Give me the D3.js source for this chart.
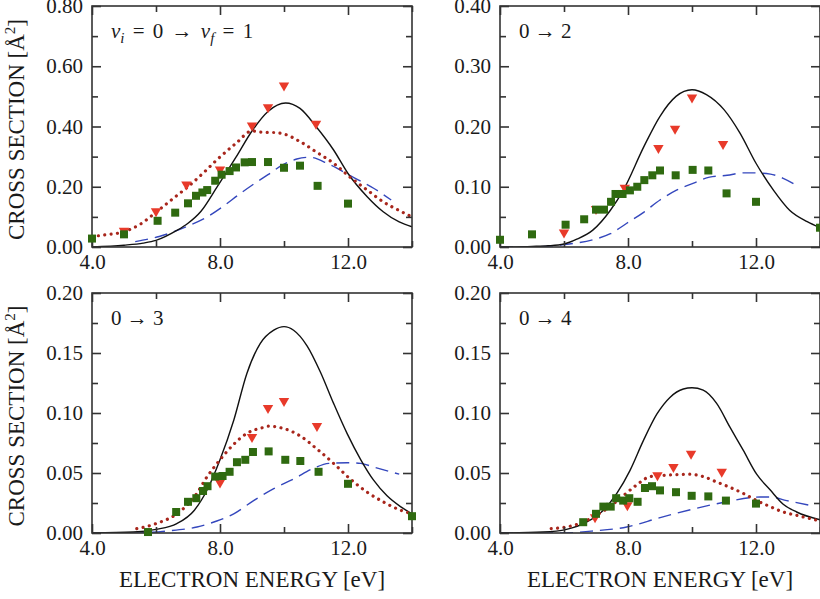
<!DOCTYPE html>
<html><head><meta charset="utf-8">
<script src="https://cdn.jsdelivr.net/npm/d3@7"></script>
<style>
body{margin:0;background:#fff}
svg{display:block}
text{font-family:"Liberation Serif","Times New Roman",serif;fill:#1a1a1a}
</style>
</head><body>
<svg id="c" width="820" height="599"></svg>
<script>
// ---------------- data (E in eV, cross section in Å^2) ----------------
const xTickValues = [4, 6, 8, 10, 12, 14];
const xTickLabels = {4: "4.0", 8: "8.0", 12: "12.0"};

// panel 1 : v_i = 0 -> v_f = 1
const p1Solid = [[4.0,0.0],[5.0,0.006],[5.6,0.013],[6.0,0.022],[6.65,0.055],[7.0,0.079],[7.4,0.118],[7.9,0.198],[8.5,0.298],[9.0,0.385],[9.5,0.45],[10.05,0.478],[10.5,0.46],[11.0,0.40],[11.55,0.322],[12.0,0.244],[12.6,0.167],[13.1,0.117],[13.6,0.083],[14.0,0.067]];
const p1Dotted = [[4.0,0.035],[4.4,0.04],[5.0,0.051],[5.5,0.075],[6.0,0.115],[6.5,0.158],[7.0,0.20],[7.5,0.248],[7.9,0.289],[8.5,0.344],[9.0,0.385],[9.3,0.381],[9.7,0.38],[10.0,0.375],[10.5,0.35],[11.0,0.316],[11.55,0.278],[12.05,0.233],[12.6,0.189],[13.1,0.15],[13.6,0.121],[14.0,0.10]];
const p1Dashed = [[5.35,0.018],[6.1,0.035],[7.0,0.07],[7.6,0.1],[8.1,0.135],[8.6,0.175],[9.0,0.205],[9.5,0.24],[10.0,0.275],[10.4,0.292],[10.8,0.298],[11.4,0.275],[12.1,0.235],[12.8,0.195],[13.35,0.156]];
const p1Tri = [[5.0,0.05],[6.0,0.114],[6.95,0.203],[8.0,0.253],[9.0,0.399],[9.5,0.46],[10.0,0.532],[11.0,0.405]];
const p1Sq = [[4.0,0.028],[5.0,0.042],[6.05,0.087],[6.6,0.114],[7.0,0.145],[7.25,0.170],[7.45,0.181],[7.6,0.189],[7.85,0.220],[8.05,0.240],[8.3,0.252],[8.5,0.264],[8.77,0.281],[9.0,0.282],[9.5,0.282],[10.0,0.263],[10.5,0.270],[11.05,0.203],[12.0,0.144]];
const p1YTicks = [0, 0.2, 0.4, 0.6, 0.8];
const p1YMinor = [0.1, 0.3, 0.5, 0.7];

// panel 2 : 0 -> 2
const p2Solid = [[4.0,0.0],[5.0,0.001],[5.5,0.002],[6.0,0.005],[6.4,0.013],[6.9,0.028],[7.45,0.061],[7.85,0.094],[8.5,0.167],[9.0,0.217],[9.5,0.25],[10.0,0.261],[10.45,0.253],[11.0,0.228],[11.5,0.189],[12.0,0.139],[12.55,0.094],[13.05,0.061],[13.6,0.042],[14.0,0.032]];
const p2Dotted = [];
const p2Dashed = [[4.0,0.0],[5.0,0.0],[6.0,0.004],[6.9,0.012],[7.45,0.022],[7.95,0.039],[8.5,0.058],[9.0,0.078],[9.5,0.094],[10.05,0.106],[10.55,0.116],[11.1,0.119],[11.6,0.123],[11.9,0.123],[12.45,0.121],[12.85,0.114],[13.3,0.101]];
const p2Tri = [[6.0,0.022],[7.0,0.061],[7.9,0.096],[8.95,0.162],[9.47,0.194],[10.0,0.246],[10.97,0.169]];
const p2Sq = [[4.0,0.012],[5.0,0.021],[6.05,0.037],[6.63,0.046],[7.0,0.062],[7.25,0.062],[7.47,0.075],[7.61,0.088],[7.83,0.088],[8.06,0.094],[8.29,0.100],[8.51,0.111],[8.76,0.119],[9.0,0.127],[9.49,0.119],[10.02,0.128],[10.51,0.127],[11.08,0.089],[12.0,0.075],[14.0,0.032]];
const p2YTicks = [0, 0.1, 0.2, 0.3, 0.4];
const p2YMinor = [0.05, 0.15, 0.25, 0.35];

// panel 3 : 0 -> 3
const p3Solid = [[4.0,0.0],[5.3,0.0008],[6.0,0.003],[6.65,0.0078],[7.2,0.019],[7.6,0.036],[8.0,0.061],[8.43,0.094],[8.84,0.133],[9.26,0.158],[9.68,0.169],[10.0,0.172],[10.3,0.169],[10.72,0.156],[11.14,0.134],[11.55,0.108],[11.97,0.083],[12.4,0.061],[12.8,0.044],[13.22,0.031],[13.64,0.022],[14.0,0.016]];
const p3Dotted = [[5.4,0.0036],[6.0,0.0078],[6.65,0.016],[7.2,0.030],[7.6,0.047],[8.0,0.061],[8.43,0.074],[8.84,0.083],[9.36,0.088],[9.52,0.089],[10.0,0.087],[10.5,0.081],[11.03,0.070],[11.55,0.058],[12.07,0.045],[12.6,0.034],[13.1,0.026],[13.64,0.019],[14.0,0.016]];
const p3Dashed = [[4.0,0.0],[5.3,0.0],[6.35,0.0017],[7.28,0.005],[7.9,0.010],[8.43,0.016],[9.05,0.027],[9.68,0.037],[10.3,0.045],[10.93,0.054],[11.4,0.058],[11.97,0.0586],[12.4,0.058],[12.8,0.055],[13.2,0.052],[13.6,0.049]];
const p3Tri = [[8.0,0.041],[9.0,0.079],[9.5,0.103],[10.0,0.109],[11.03,0.088]];
const p3Sq = [[5.75,0.0008],[6.63,0.0175],[7.0,0.026],[7.26,0.029],[7.47,0.035],[7.61,0.039],[7.85,0.047],[8.08,0.0475],[8.3,0.051],[8.53,0.059],[8.79,0.061],[9.03,0.0675],[9.52,0.068],[10.04,0.061],[10.51,0.060],[11.08,0.051],[12.0,0.041],[14.0,0.014]];
const p3YTicks = [0, 0.05, 0.1, 0.15, 0.2];
const p3YMinor = [0.025, 0.075, 0.125, 0.175];

// panel 4 : 0 -> 4
const p4Solid = [[4.0,0.0],[5.35,0.0008],[6.08,0.003],[6.7,0.009],[7.23,0.019],[7.65,0.033],[8.06,0.052],[8.48,0.077],[8.9,0.099],[9.31,0.113],[9.73,0.120],[10.0,0.121],[10.35,0.119],[10.77,0.108],[11.19,0.088],[11.6,0.069],[12.02,0.049],[12.44,0.036],[12.85,0.024],[13.27,0.0175],[14.0,0.011]];
const p4Dotted = [[5.6,0.0036],[6.08,0.005],[6.6,0.009],[7.02,0.015],[7.44,0.022],[7.85,0.031],[8.27,0.040],[8.69,0.047],[9.1,0.048],[9.52,0.0486],[9.94,0.049],[10.35,0.047],[10.77,0.0425],[11.19,0.038],[11.6,0.033],[12.02,0.027],[12.44,0.022],[12.85,0.0175],[13.27,0.0147],[14.0,0.010]];
const p4Dashed = [[4.0,0.0],[5.9,0.0],[6.92,0.0017],[7.96,0.005],[9.0,0.0128],[10.04,0.020],[11.08,0.026],[12.13,0.030],[12.44,0.030],[12.96,0.027],[13.7,0.023]];
const p4Tri = [[6.97,0.012],[7.98,0.022],[8.92,0.047],[9.42,0.054],[9.97,0.065],[10.93,0.050]];
const p4Sq = [[6.6,0.009],[7.0,0.016],[7.23,0.022],[7.46,0.022],[7.63,0.029],[7.85,0.027],[8.04,0.029],[8.3,0.026],[8.53,0.0375],[8.75,0.039],[9.0,0.0355],[9.5,0.034],[9.99,0.031],[10.51,0.0305],[11.06,0.027],[12.0,0.0245]];
const p4YTicks = [0, 0.05, 0.1, 0.15, 0.2];
const p4YMinor = [0.025, 0.075, 0.125, 0.175];

const panelTitles = ["0 → 1", "0 → 2", "0 → 3", "0 → 4"];
const xAxisTitle = "ELECTRON ENERGY [eV]";
const yAxisTitle = "CROSS SECTION [Å";

// ---------------- layout ----------------
const svg = d3.select("#c");
const boxes = [
  {x0: 92, x1: 412, y0: 6, y1: 247},
  {x0: 500, x1: 820, y0: 6, y1: 247},
  {x0: 92, x1: 412, y0: 293, y1: 533},
  {x0: 500, x1: 820, y0: 293, y1: 533}
];
const panels = [
  {solid: p1Solid, dotted: p1Dotted, dashed: p1Dashed, tri: p1Tri, sq: p1Sq, yt: p1YTicks, ym: p1YMinor, fmt: ".2f"},
  {solid: p2Solid, dotted: p2Dotted, dashed: p2Dashed, tri: p2Tri, sq: p2Sq, yt: p2YTicks, ym: p2YMinor, fmt: ".2f"},
  {solid: p3Solid, dotted: p3Dotted, dashed: p3Dashed, tri: p3Tri, sq: p3Sq, yt: p3YTicks, ym: p3YMinor, fmt: ".2f"},
  {solid: p4Solid, dotted: p4Dotted, dashed: p4Dashed, tri: p4Tri, sq: p4Sq, yt: p4YTicks, ym: p4YMinor, fmt: ".2f"}
];

const frameColor = "#333";
const majorLen = 9, minorLen = 6;

panels.forEach((p, i) => {
  const b = boxes[i];
  const x = d3.scaleLinear().domain([4, 14]).range([b.x0, b.x1]);
  const y = d3.scaleLinear().domain([0, p.yt[p.yt.length - 1]]).range([b.y1, b.y0]);
  const g = svg.append("g");

  const clipId = "clip" + i;
  svg.append("clipPath").attr("id", clipId).append("rect")
    .attr("x", b.x0).attr("y", b.y0).attr("width", b.x1 - b.x0).attr("height", b.y1 - b.y0);

  const line = d3.line().x(d => x(d[0])).y(d => y(d[1])).curve(d3.curveMonotoneX);
  const lg = g.append("g").attr("clip-path", `url(#${clipId})`);
  if (p.dashed.length) lg.append("path").attr("d", line(p.dashed)).attr("fill", "none")
    .attr("stroke", "#3447bd").attr("stroke-width", 1.4).attr("stroke-dasharray", "13,7");
  if (p.solid.length) lg.append("path").attr("d", line(p.solid)).attr("fill", "none")
    .attr("stroke", "#111").attr("stroke-width", 1.4);
  if (p.dotted.length) lg.append("path").attr("d", line(p.dotted)).attr("fill", "none")
    .attr("stroke", "#a8261c").attr("stroke-width", 3.2).attr("stroke-linecap", "round")
    .attr("stroke-dasharray", "0.01,6.4");

  // frame
  g.append("rect").attr("x", b.x0).attr("y", b.y0).attr("width", b.x1 - b.x0).attr("height", b.y1 - b.y0)
    .attr("fill", "none").attr("stroke", frameColor).attr("stroke-width", 1.6);

  // axes with inward ticks
  const fmt = d3.format(p.fmt);
  const yLeft = d3.axisLeft(y).tickValues(p.yt).tickSize(-majorLen).tickPadding(9).tickFormat(fmt);
  const ya = g.append("g").attr("transform", `translate(${b.x0},0)`).call(yLeft);
  const yLeftMin = d3.axisLeft(y).tickValues(p.ym).tickSize(-minorLen).tickFormat("");
  const yam = g.append("g").attr("transform", `translate(${b.x0},0)`).call(yLeftMin);
  const yRight = d3.axisRight(y).tickValues(p.yt).tickSize(-majorLen).tickFormat("");
  const yr = g.append("g").attr("transform", `translate(${b.x1},0)`).call(yRight);
  const yRightMin = d3.axisRight(y).tickValues(p.ym).tickSize(-minorLen).tickFormat("");
  const yrm = g.append("g").attr("transform", `translate(${b.x1},0)`).call(yRightMin);

  const xMaj = xTickValues.filter(v => xTickLabels[v]);
  const xMin = xTickValues.filter(v => !xTickLabels[v]);
  const xBot = d3.axisBottom(x).tickValues(xMaj).tickSize(-majorLen).tickPadding(7).tickFormat(v => xTickLabels[v]);
  const xb = g.append("g").attr("transform", `translate(0,${b.y1})`).call(xBot);
  const xBotMin = d3.axisBottom(x).tickValues(xMin).tickSize(-minorLen).tickFormat("");
  const xbm = g.append("g").attr("transform", `translate(0,${b.y1})`).call(xBotMin);
  const xTop = d3.axisTop(x).tickValues(xMaj).tickSize(-majorLen).tickFormat("");
  const xt = g.append("g").attr("transform", `translate(0,${b.y0})`).call(xTop);
  const xTopMin = d3.axisTop(x).tickValues(xMin).tickSize(-minorLen).tickFormat("");
  const xtm = g.append("g").attr("transform", `translate(0,${b.y0})`).call(xTopMin);

  [ya, yam, yr, yrm, xb, xbm, xt, xtm].forEach(a => {
    a.select(".domain").remove();
    a.selectAll(".tick line").attr("stroke", frameColor).attr("stroke-width", 1.6);
    a.selectAll(".tick text").attr("font-size", 21).attr("font-family", '"Liberation Serif", serif').attr("fill", "#1a1a1a");
  });

  // markers
  const triPath = "M-5.2,-4.3L5.2,-4.3L0,4.7Z";
  g.append("g").selectAll("path").data(p.tri).join("path")
    .attr("d", triPath).attr("transform", d => `translate(${x(d[0])},${y(d[1])})`)
    .attr("fill", "#e83a2a");
  g.append("g").selectAll("rect").data(p.sq).join("rect")
    .attr("x", d => x(d[0]) - 4).attr("y", d => y(d[1]) - 4).attr("width", 8).attr("height", 8)
    .attr("fill", "#2f6a10");

  // panel title
  const t = g.append("text").attr("x", b.x0 + 19).attr("y", b.y0 + 32).attr("font-size", 21)
    .attr("xml:space", "preserve").style("white-space", "pre");
  if (i === 0) {
    t.append("tspan").attr("font-style", "italic").text("v");
    t.append("tspan").attr("font-style", "italic").attr("font-size", 15).attr("dy", 5).text("i");
    t.append("tspan").attr("dy", -5).attr("dx", 3).text(" =");
    t.append("tspan").attr("dx", 3).text(" 0");
    t.append("tspan").attr("dx", 3).text(" →");
    t.append("tspan").attr("dx", 3).text(" ");
    t.append("tspan").attr("font-style", "italic").text("v");
    t.append("tspan").attr("font-style", "italic").attr("font-size", 15).attr("dy", 5).text("f");
    t.append("tspan").attr("dy", -5).attr("dx", 3).text(" =");
    t.append("tspan").attr("dx", 3).text(" 1");
  } else {
    t.text(panelTitles[i]);
  }

  // axis titles
  if (i >= 2) {
    g.append("text").attr("x", (b.x0 + b.x1) / 2).attr("y", 587).attr("text-anchor", "middle")
      .attr("font-size", 23).text(xAxisTitle);
  }
  if (i % 2 === 0) {
    const yt = g.append("text").attr("transform", `translate(24,${(b.y0 + b.y1) / 2 + 3}) rotate(-90)`)
      .attr("text-anchor", "middle").attr("font-size", 23);
    yt.append("tspan").text(yAxisTitle);
    yt.append("tspan").attr("font-size", 15).attr("dy", -9).text("2");
    yt.append("tspan").attr("dy", 9).text("]");
  }
});
</script>
</body></html>
